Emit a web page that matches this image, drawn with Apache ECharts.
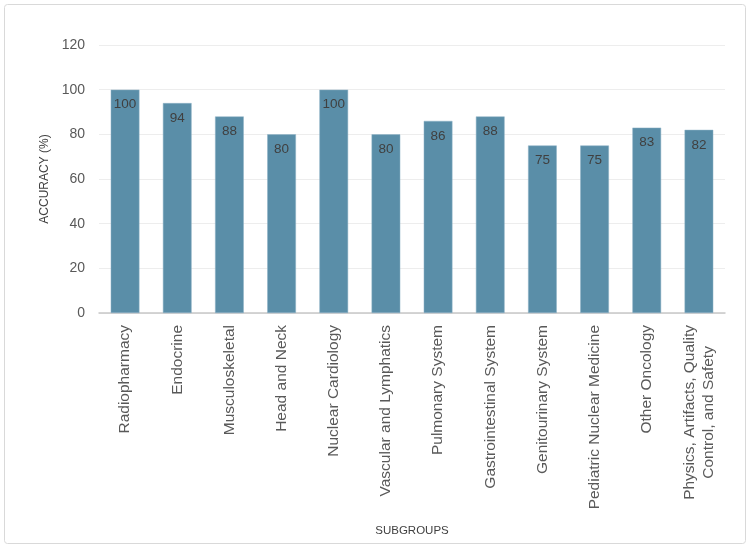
<!DOCTYPE html>
<html>
<head>
<meta charset="utf-8">
<script src="https://cdn.jsdelivr.net/npm/echarts@6/dist/echarts.min.js"></script>
<style>
  html, body { margin: 0; padding: 0; background: #fff; }
  #chart { width: 750px; height: 548px; }
</style>
</head>
<body>
<div id="chart"></div>
<script>
const categories = [
  "Radiopharmacy",
  "Endocrine",
  "Musculoskeletal",
  "Head and Neck",
  "Nuclear Cardiology",
  "Vascular and Lymphatics",
  "Pulmonary System",
  "Gastrointestinal System",
  "Genitourinary System",
  "Pediatric Nuclear Medicine",
  "Other Oncology",
  "Physics, Artifacts, Quality\nControl, and Safety",
];
const accuracy = [100, 94, 88, 80, 100, 80, 86, 88, 75, 75, 83, 82];
const yTicks = [0, 20, 40, 60, 80, 100, 120];

const fontFamily = "Liberation Sans, Arial, sans-serif";

const getOption = () => {
  return {
    animation: false,
    graphic: [
      {
        type: "rect",
        shape: { x: 4.5, y: 4.5, width: 741, height: 539, r: 3 },
        style: { fill: "none", stroke: "#d9d9d9", lineWidth: 1 },
        silent: true,
      },
    ],
    grid: {
      left: 99,
      right: 25,
      top: 45,
      bottom: 235,
    },
    xAxis: {
      type: "category",
      data: categories,
      name: "SUBGROUPS",
      nameLocation: "middle",
      nameGap: 212,
      nameTextStyle: { fontSize: 11.5, color: "#404040", fontFamily: fontFamily },
      axisLine: { lineStyle: { color: "#c8c8c8", width: 1.5 } },
      axisTick: { show: false },
      axisLabel: {
        rotate: 90,
        interval: 0,
        margin: 12,
        fontSize: 15.5,
        color: "#595959",
        fontFamily: fontFamily,
        formatter: (v) =>
          v
            .split("\n")
            .map((s) => "{c|" + s + "}")
            .join("\n"),
        rich: {
          c: {
            align: "center",
            fontSize: 15.5,
            color: "#595959",
            fontFamily: fontFamily,
            lineHeight: 19,
          },
        },
      },
    },
    yAxis: {
      type: "value",
      min: yTicks[0],
      max: yTicks[yTicks.length - 1],
      interval: 20,
      name: "ACCURACY (%)",
      nameLocation: "middle",
      nameGap: 43,
      nameTextStyle: { fontSize: 12, color: "#404040", fontFamily: fontFamily },
      axisLine: { show: false },
      axisTick: { show: false },
      axisLabel: {
        margin: 14,
        fontSize: 14,
        color: "#595959",
        fontFamily: fontFamily,
      },
      splitLine: { lineStyle: { color: "#ededed", width: 1 } },
    },
    series: [
      {
        type: "bar",
        data: accuracy,
        barWidth: "55%",
        itemStyle: { color: "#5a8ea8", borderColor: "#8fb3c6", borderWidth: 0.5 },
        label: {
          show: true,
          position: "insideTop",
          distance: 8,
          fontSize: 13.5,
          color: "#404040",
          fontFamily: fontFamily,
        },
      },
    ],
  };
};

const initChart = () => {
  const chart = echarts.init(document.getElementById("chart"));
  chart.setOption(getOption());
};

window.addEventListener("load", () => {
  initChart();
});
</script>
</body>
</html>
